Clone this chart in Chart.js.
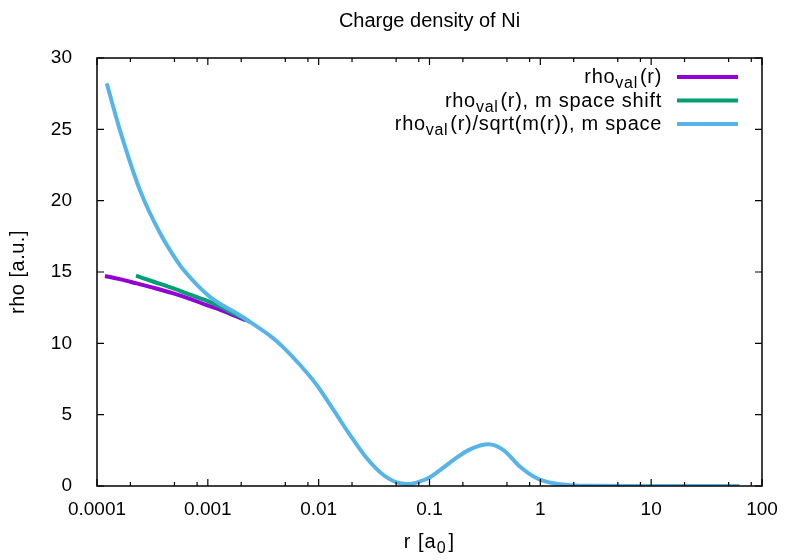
<!DOCTYPE html>
<html>
<head>
<meta charset="utf-8">
<script src="https://cdn.jsdelivr.net/npm/chart.js@4.4.1/dist/chart.umd.min.js"></script>
<style>
  html, body { margin: 0; padding: 0; background: #fff; }
  #wrap { width: 785px; height: 560px; }
</style>
</head>
<body>
<div id="wrap"><canvas id="rhoChart" width="785" height="560"></canvas></div>
<script>
// axis ticks
const xTicks = [0.0001, 0.001, 0.01, 0.1, 1, 10, 100];
const xTickLabels = ['0.0001', '0.001', '0.01', '0.1', '1', '10', '100'];
const xMinorSteps = [2, 5, 8];
const yTicks = [0, 5, 10, 15, 20, 25, 30];

// rho_val(r)
const rPlain = [1.18e-4, 1.6e-4, 2.28e-4, 3.3e-4, 4.89e-4, 7.0e-4, 9.77e-4, 1.3e-3, 1.6e-3, 2.0e-3, 2.2e-3];
const rhoPlain = [14.72, 14.5, 14.2, 13.88, 13.5, 13.1, 12.68, 12.35, 12.05, 11.75, 11.62];

// rho_val(r), m space shift
const rShift = [2.25e-4, 3.3e-4, 4.89e-4, 7.0e-4, 9.77e-4, 1.3e-3, 1.7e-3, 2.1e-3, 2.4e-3];
const rhoShift = [14.74, 14.3, 13.85, 13.4, 12.99, 12.55, 12.1, 11.75, 11.5];

// rho_val(r)/sqrt(m(r)), m space
const rSqrt = [1.224e-4, 1.61e-4, 2.44e-4, 3.7e-4, 5.24e-4, 6.05e-4, 1.05e-3, 1.82e-3, 2.4e-3,
  3.9e-3, 4.8e-3, 6.8e-3, 9.6e-3, 1.36e-2, 1.92e-2, 2.72e-2, 3.84e-2, 5.4e-2, 6.5e-2, 8.2e-2,
  0.1, 0.164, 0.232, 0.34, 0.465, 0.657, 0.93, 1.31, 1.86, 3, 10, 62.7];
const rhoSqrt = [28.22, 24.95, 20.74, 17.73, 15.8, 15.14, 13.24, 12.1, 11.5,
  10.35, 9.72, 8.48, 7.08, 5.33, 3.57, 1.94, 0.77, 0.19, 0.14, 0.32,
  0.6, 1.82, 2.57, 2.93, 2.52, 1.35, 0.54, 0.19, 0.06, 0.01, 0, 0];

const colors = {
    purple: '#9400d3',
    green: '#009e73',
    blue: '#56b4e9'
};

const fontFamily = '"Liberation Sans", Arial, sans-serif';

// rich text pieces: [text, isSubscript]
const legendLabels = [
    [['rho', false], ['val', true], ['(r)', false]],
    [['rho', false], ['val', true], ['(r), m space shift', false]],
    [['rho', false], ['val', true], ['(r)/sqrt(m(r)), m space', false]]
];
const xTitle = [['r [a', false], ['0', true], [']', false]];

function toPoints(xs, ys) {
    return xs.map((v, i) => ({ x: v, y: ys[i] }));
}

function drawRich(ctx, parts, x, y, align, spacing) {
    const main = '20px ' + fontFamily;
    const sub = '16px ' + fontFamily;
    ctx.letterSpacing = spacing + 'px';
    let total = 0;
    parts.forEach(([t, s]) => {
        ctx.font = s ? sub : main;
        total += ctx.measureText(t).width + (s ? 2 : 0);
    });
    let cx = align === 'right' ? x - total : (align === 'center' ? x - total / 2 : x);
    ctx.textAlign = 'left';
    ctx.textBaseline = 'alphabetic';
    parts.forEach(([t, s]) => {
        ctx.font = s ? sub : main;
        ctx.fillText(t, cx, s ? y + 5 : y);
        cx += ctx.measureText(t).width + (s ? 2 : 0);
    });
    ctx.letterSpacing = '0px';
}

const frameTicks = {
    id: 'frameTicks',
    afterDatasetsDraw(chart) {
        const { ctx, chartArea: a, scales: { x, y } } = chart;
        ctx.save();
        ctx.strokeStyle = '#000';
        ctx.lineWidth = 1.5;
        ctx.strokeRect(a.left, a.top, a.right - a.left, a.bottom - a.top);

        ctx.lineWidth = 1.2;
        ctx.beginPath();
        xTicks.forEach(v => {
            const px = x.getPixelForValue(v);
            ctx.moveTo(px, a.bottom); ctx.lineTo(px, a.bottom - 7);
            ctx.moveTo(px, a.top); ctx.lineTo(px, a.top + 7);
            xMinorSteps.forEach(m => {
                const mv = v * m;
                if (mv > x.max) return;
                const mp = x.getPixelForValue(mv);
                ctx.moveTo(mp, a.bottom); ctx.lineTo(mp, a.bottom - 4);
                ctx.moveTo(mp, a.top); ctx.lineTo(mp, a.top + 4);
            });
        });
        yTicks.forEach(v => {
            const py = y.getPixelForValue(v);
            ctx.moveTo(a.left, py); ctx.lineTo(a.left + 7, py);
            ctx.moveTo(a.right, py); ctx.lineTo(a.right - 7, py);
        });
        ctx.stroke();
        ctx.restore();
    },
    afterDraw(chart) {
        const { ctx, chartArea: a } = chart;
        ctx.save();
        ctx.fillStyle = '#000';

        // title
        ctx.font = '20px ' + fontFamily;
        ctx.textAlign = 'center';
        ctx.textBaseline = 'middle';
        ctx.fillText('Charge density of Ni', (a.left + a.right) / 2, 21);

        // axis titles
        drawRich(ctx, xTitle, (a.left + a.right) / 2, 548, 'center', 1);
        ctx.save();
        ctx.translate(18, (a.top + a.bottom) / 2);
        ctx.rotate(-Math.PI / 2);
        ctx.font = '20px ' + fontFamily;
        ctx.letterSpacing = '0.5px';
        ctx.textAlign = 'center';
        ctx.textBaseline = 'middle';
        ctx.fillText('rho [a.u.]', 0, 0);
        ctx.restore();

        // legend, top right, text right aligned before the sample line
        chart.data.datasets.forEach((ds, i) => {
            const rowY = 77 + i * 23.5;
            ctx.fillStyle = '#000';
            drawRich(ctx, legendLabels[i], 662, rowY + 6, 'right', 0.7);
            ctx.strokeStyle = ds.borderColor;
            ctx.lineWidth = 4;
            ctx.beginPath();
            ctx.moveTo(677, rowY);
            ctx.lineTo(738, rowY);
            ctx.stroke();
        });
        ctx.restore();
    }
};

const ctx = document.getElementById('rhoChart');
new Chart(ctx, {
    type: 'line',
    data: {
        datasets: [
            {
                label: 'rho_val(r)',
                data: toPoints(rPlain, rhoPlain),
                borderColor: colors.purple,
                order: 3
            },
            {
                label: 'rho_val(r), m space shift',
                data: toPoints(rShift, rhoShift),
                borderColor: colors.green,
                order: 2
            },
            {
                label: 'rho_val(r)/sqrt(m(r)), m space',
                data: toPoints(rSqrt, rhoSqrt),
                borderColor: colors.blue,
                order: 1
            }
        ]
    },
    options: {
        responsive: false,
        animation: false,
        layout: {
            padding: { top: 58, right: 23, left: 0, bottom: 0 }
        },
        elements: {
            point: { radius: 0 },
            line: { borderWidth: 4, cubicInterpolationMode: 'monotone', fill: false }
        },
        plugins: {
            legend: { display: false },
            title: { display: false },
            tooltip: { enabled: false }
        },
        scales: {
            x: {
                type: 'logarithmic',
                min: 0.0001,
                max: 100,
                afterBuildTicks(scale) {
                    scale.ticks = xTicks.map(v => ({ value: v }));
                },
                afterFit(scale) {
                    scale.height = 74;
                },
                grid: { display: false },
                border: { display: false },
                ticks: {
                    autoSkip: false,
                    maxRotation: 0,
                    color: '#000',
                    padding: 4,
                    font: { family: fontFamily, size: 19 },
                    callback: (value, index) => xTickLabels[index]
                }
            },
            y: {
                min: 0,
                max: 30,
                afterFit(scale) {
                    scale.width = 97;
                },
                grid: { display: false },
                border: { display: false },
                ticks: {
                    stepSize: 5,
                    color: '#000',
                    padding: 17,
                    font: { family: fontFamily, size: 19 }
                }
            }
        }
    },
    plugins: [frameTicks]
});
</script>
</body>
</html>
